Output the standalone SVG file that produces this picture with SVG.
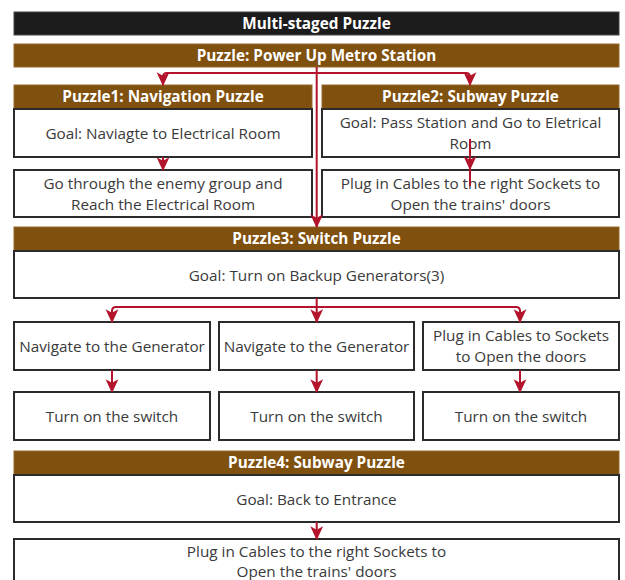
<svg xmlns="http://www.w3.org/2000/svg" width="625" height="580" viewBox="0 0 625 580">
<defs>
<marker id="ah" viewBox="0 0 12 12" refX="11" refY="6" markerWidth="14" markerHeight="14" markerUnits="userSpaceOnUse" orient="auto">
<path d="M0,0.5 L12,6 L0,11.5 L3,6 z" fill="#b3132b"/>
</marker>
<style>
.hd{fill:#7f500e;stroke:#96692e;stroke-width:1}
.tt{fill:#1c1c1c;stroke:#444;stroke-width:1}
.bx{fill:#fff;stroke:#2b2b2b;stroke-width:2}
.ht{font-family:"Open Sans","Noto Sans",sans-serif;font-weight:bold;font-size:15.3px;fill:#fff;text-anchor:middle}
.bt{font-family:"Open Sans","Noto Sans",sans-serif;font-size:15.3px;fill:#3a3a3a;text-anchor:middle}
.cn{fill:none;stroke:#b3132b;stroke-width:2}
</style>
</defs>
<rect width="625" height="580" fill="#fff"/>
<g id="title"><rect class="tt" x="14" y="12" width="605" height="23"/><text class="ht" x="316.5" y="29">Multi-staged Puzzle</text></g>
<g id="main"><rect class="hd" x="14" y="44" width="605" height="23"/><text class="ht" x="316.5" y="61">Puzzle: Power Up Metro Station</text></g>
<g id="p1h"><rect class="hd" x="14" y="85" width="298" height="24"/><text class="ht" x="163" y="102">Puzzle1: Navigation Puzzle</text></g>
<g id="p1g"><rect class="bx" x="14" y="109" width="298" height="48"/><text class="bt" x="163" y="139">Goal: Naviagte to Electrical Room</text></g>
<g id="p1s"><rect class="bx" x="14" y="170" width="298" height="47"/><text class="bt" x="163" y="189">Go through the enemy group and</text><text class="bt" x="163" y="210">Reach the Electrical Room</text></g>
<g id="p2h"><rect class="hd" x="322" y="85" width="297" height="24"/><text class="ht" x="470.5" y="102">Puzzle2: Subway Puzzle</text></g>
<g id="p2g"><rect class="bx" x="322" y="109" width="297" height="48"/><text class="bt" x="470.5" y="128">Goal: Pass Station and Go to Eletrical</text><text class="bt" x="470.5" y="149">Room</text></g>
<g id="p2s"><rect class="bx" x="322" y="170" width="297" height="47"/><text class="bt" x="470.5" y="189">Plug in Cables to the right Sockets to</text><text class="bt" x="470.5" y="210">Open the trains' doors</text></g>
<g id="p3h"><rect class="hd" x="14" y="227" width="605" height="24"/><text class="ht" x="316.5" y="244">Puzzle3: Switch Puzzle</text></g>
<g id="p3g"><rect class="bx" x="14" y="251" width="605" height="47"/><text class="bt" x="316.5" y="281">Goal: Turn on Backup Generators(3)</text></g>
<g id="a1"><rect class="bx" x="14" y="322" width="196" height="48"/><text class="bt" x="112" y="352">Navigate to the Generator</text></g>
<g id="a2"><rect class="bx" x="219" y="322" width="195" height="48"/><text class="bt" x="316.5" y="352">Navigate to the Generator</text></g>
<g id="a3"><rect class="bx" x="423" y="322" width="196" height="48"/><text class="bt" x="521" y="341">Plug in Cables to Sockets</text><text class="bt" x="521" y="362">to Open the doors</text></g>
<g id="b1"><rect class="bx" x="14" y="392" width="196" height="48"/><text class="bt" x="112" y="422">Turn on the switch</text></g>
<g id="b2"><rect class="bx" x="219" y="392" width="195" height="48"/><text class="bt" x="316.5" y="422">Turn on the switch</text></g>
<g id="b3"><rect class="bx" x="423" y="392" width="196" height="48"/><text class="bt" x="521" y="422">Turn on the switch</text></g>
<g id="p4h"><rect class="hd" x="14" y="451" width="605" height="24"/><text class="ht" x="316.5" y="468">Puzzle4: Subway Puzzle</text></g>
<g id="p4g"><rect class="bx" x="14" y="475" width="605" height="47"/><text class="bt" x="316.5" y="505">Goal: Back to Entrance</text></g>
<g id="p4s"><rect class="bx" x="14" y="539" width="605" height="52"/><text class="bt" x="316.5" y="557">Plug in Cables to the right Sockets to</text><text class="bt" x="316.5" y="577">Open the trains' doors</text></g>
<g id="connectors">
<path class="cn" d="M316.7,67 V227" marker-end="url(#ah)"/>
<path class="cn" d="M316.7,73 H167 Q163,73 163,77 V85" marker-end="url(#ah)"/>
<path class="cn" d="M316.7,73 H466 Q470,73 470,77 V85" marker-end="url(#ah)"/>
<path class="cn" d="M163,157 V170" marker-end="url(#ah)"/>
<path class="cn" d="M470,139 V186"/>
<path class="cn" d="M470,139 V169" marker-end="url(#ah)"/>
<path class="cn" d="M316.7,298 V322" marker-end="url(#ah)"/>
<path class="cn" d="M316.7,307 H116 Q112,307 112,311 V322" marker-end="url(#ah)"/>
<path class="cn" d="M316.7,307 H516 Q520,307 520,311 V322" marker-end="url(#ah)"/>
<path class="cn" d="M112,370 V392" marker-end="url(#ah)"/>
<path class="cn" d="M316.7,370 V392" marker-end="url(#ah)"/>
<path class="cn" d="M520,370 V392" marker-end="url(#ah)"/>
<path class="cn" d="M316.7,522 V539" marker-end="url(#ah)"/>
</g>
</svg>
